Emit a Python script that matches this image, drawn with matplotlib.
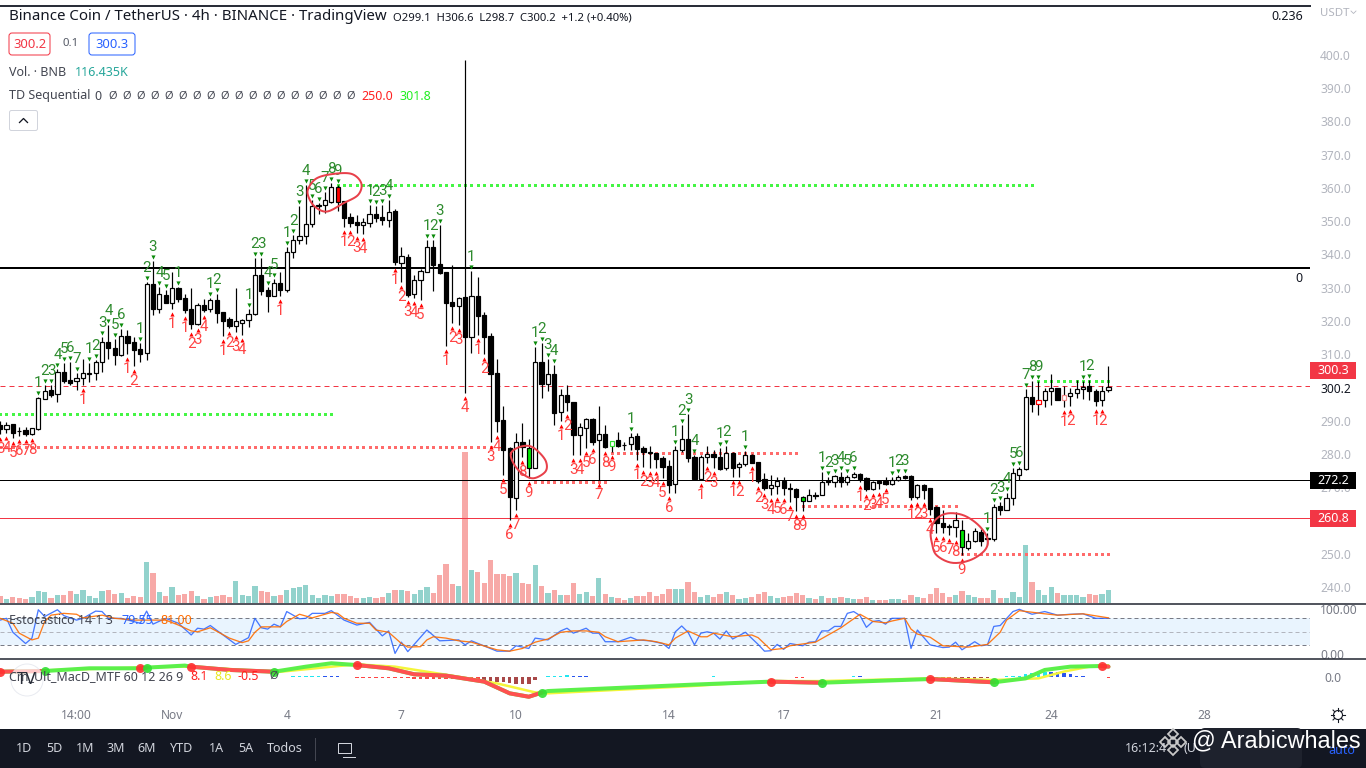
import numpy as np
import matplotlib
matplotlib.use("Agg")
from matplotlib import pyplot as plt
from matplotlib.patches import Rectangle, FancyBboxPatch, Circle
from matplotlib.transforms import offset_copy

plt.rcParams["font.family"] = ["Noto Sans", "DejaVu Sans"]

# BNB/USDT 4h candles
opens = [288.7,287.4,288.9,287.0,287.2,286.0,
    287.5,296.6,299.2,297.9,304.6,302.2,301.8,303.0,304.2,304.4,
    307.6,313.6,311.8,309.9,315.4,313.6,311.6,310.3,331.0,323.7,
    327.7,325.5,329.8,326.8,323.5,319.2,324.7,323.7,326.2,322.6,
    320.5,318.6,319.5,320.2,322.0,333.7,329.2,327.6,331.3,329.4,
    340.7,344.2,345.4,349.1,354.7,354.8,355.9,360.2,356.0,351.2,
    349.7,349.0,349.6,352.1,351.2,350.5,353.0,337.5,339.2,328.0,
    332.2,334.8,342.2,337.0,334.6,325.6,324.6,327.2,315.3,327.5,
    321.8,315.5,304.4,290.1,281.7,266.9,283.6,281.7,275.7,307.6,
    301.0,304.0,292.5,297.6,295.5,285.8,287.9,290.4,284.1,285.9,
    282.5,284.1,282.8,282.9,285.3,281.7,280.5,280.2,278.7,276.4,
    270.9,281.1,284.4,279.1,272.6,279.0,279.9,279.0,275.7,280.3,
    276.0,276.9,279.7,277.5,272.4,269.8,270.5,271.9,269.9,269.6,
    267.1,266.0,267.7,267.7,272.0,271.7,273.2,271.7,273.1,273.9,
    272.7,269.4,271.8,271.9,271.1,272.3,273.3,273.4,267.1,270.7,
    269.7,264.0,259.2,258.3,258.1,257.2,251.7,253.9,256.6,254.6,
    254.4,264.4,263.3,266.7,273.8,275.4,297.1,294.9,296.2,298.9,
    299.9,296.1,297.4,298.3,299.5,300.3,298.9,296.1,299.1]
closes = [287.5,288.7,286.4,286.9,285.9,287.7,
    296.7,299.0,297.7,304.6,302.0,301.3,303.0,304.3,304.4,307.6,
    313.6,312.0,309.9,315.4,313.5,311.3,310.2,331.0,323.7,328.0,
    325.5,329.8,326.6,323.3,319.2,324.7,323.4,326.2,322.5,320.1,
    318.5,319.9,320.2,322.0,333.7,329.1,327.6,331.3,329.3,340.6,
    344.3,345.4,349.1,354.5,354.9,356.3,360.2,355.9,351.0,349.6,
    349.0,349.7,352.1,351.1,350.5,352.7,337.8,339.4,327.8,332.2,
    334.9,342.2,336.8,334.5,325.5,324.5,326.8,315.3,327.5,321.6,
    315.3,304.2,290.0,281.2,267.2,283.5,282.0,275.7,307.6,300.9,
    304.0,292.4,297.6,295.7,285.7,288.0,290.5,283.7,285.9,282.1,
    283.8,282.5,282.6,285.2,281.6,280.6,280.2,278.6,276.2,270.8,
    281.1,284.4,278.9,272.6,279.0,279.9,279.0,275.6,280.4,275.9,
    276.9,279.6,277.4,271.9,269.8,270.6,271.9,269.8,269.6,267.1,
    266.0,267.8,267.3,271.6,271.5,273.3,271.6,273.0,273.9,272.5,
    269.4,271.5,271.4,271.0,272.3,273.0,272.9,267.0,270.7,269.2,
    263.6,259.3,258.1,258.0,260.3,251.9,253.7,256.8,253.9,254.4,
    264.2,263.2,266.7,274.2,275.4,297.1,294.9,296.2,298.9,299.8,
    296.1,297.7,298.3,299.5,300.2,298.8,295.8,298.9,300.2]
highs = [289.9,289.5,288.9,288.2,288.2,287.9,
    297.2,300.7,300.7,305.5,307.3,307.8,304.3,308.6,307.3,308.3,
    315.3,318.8,314.5,317.5,317.3,315.3,313.3,331.8,338.0,330.3,
    329.3,334.6,330.3,328.1,329.8,325.3,326.6,326.8,328.1,322.8,
    321.1,329.8,320.6,323.6,338.8,338.8,330.1,332.6,334.6,342.3,
    345.9,354.6,360.9,356.4,355.6,358.7,361.4,360.9,356.0,352.6,
    351.8,350.9,354.9,354.7,354.9,356.4,353.6,342.1,340.0,333.8,
    335.5,344.4,344.4,348.9,334.8,336.8,327.3,398.5,335.0,333.3,
    322.6,316.3,308.5,294.4,282.0,286.2,289.2,284.5,312.3,313.3,
    308.5,306.8,299.5,300.8,295.5,289.4,290.7,290.9,294.4,288.7,
    283.8,286.7,283.5,286.2,286.2,282.4,282.4,280.4,279.4,278.2,
    282.4,288.7,291.9,279.7,279.7,282.4,281.2,281.7,282.4,280.7,
    277.7,281.0,280.0,277.5,274.2,273.7,273.2,273.2,271.2,269.8,
    267.3,269.6,268.6,274.7,273.0,273.7,274.7,273.7,274.5,274.2,
    273.0,271.9,272.2,273.2,273.2,273.7,273.7,273.7,270.9,271.0,
    269.7,264.3,263.1,259.1,262.6,260.1,256.1,257.6,257.4,256.1,
    265.1,265.7,268.2,275.7,276.2,299.5,301.8,301.8,299.8,304.1,
    299.9,300.3,299.8,302.3,301.8,302.3,299.5,300.3,306.6]
lows = [285.9,286.2,284.9,285.5,285.5,285.7,
    287.2,296.4,297.2,295.7,301.2,300.7,299.2,300.7,301.7,302.2,
    304.8,308.6,306.8,309.6,310.1,306.6,307.8,308.3,321.8,322.3,
    325.3,323.5,325.8,322.5,317.5,318.8,322.8,322.8,319.5,315.6,
    317.8,316.8,315.8,318.3,321.8,327.8,322.8,327.6,327.6,328.6,
    338.8,343.2,343.2,348.4,352.1,352.4,355.6,353.2,348.2,348.2,
    346.4,346.2,348.2,349.9,348.9,348.2,336.8,331.8,327.3,326.8,
    326.3,334.6,329.1,334.1,312.6,319.3,318.8,298.2,310.3,315.8,
    310.1,283.7,286.7,273.7,260.2,263.2,279.2,272.7,275.7,296.7,
    299.0,288.7,289.9,293.0,279.7,279.7,281.7,282.7,272.2,281.7,
    280.7,282.2,281.2,281.2,278.2,276.2,275.7,275.7,272.7,268.2,
    268.2,280.7,277.5,272.4,272.2,277.2,275.7,275.2,275.2,273.2,
    273.2,276.4,277.2,271.2,269.1,267.6,267.9,267.6,265.6,262.9,
    262.9,266.0,266.6,267.6,270.7,270.2,270.2,270.7,272.7,271.7,
    268.9,269.1,269.6,270.7,270.7,272.0,272.4,266.3,266.6,266.6,
    261.6,256.1,256.1,255.6,255.1,249.6,251.1,253.6,252.3,252.6,
    253.9,261.7,263.2,264.7,272.2,275.2,292.5,291.7,294.1,294.6,
    296.1,294.1,294.3,296.8,296.5,296.3,294.3,294.5,298.7]
# volume in thousands of BNB
volumes = [60,36,54,45,36,54,
    111,99,48,72,72,108,81,117,63,48,
    108,117,81,90,48,63,51,366,270,99,
    66,144,72,81,108,63,36,54,63,72,
    57,198,72,63,153,108,99,63,72,117,
    135,144,162,72,42,72,63,78,81,63,
    45,48,57,48,57,90,117,117,108,81,
    117,144,93,252,351,171,153,1359,297,279,
    180,387,261,261,243,270,180,171,342,153,
    90,117,72,72,180,81,99,63,225,81,
    54,45,27,45,63,63,99,63,81,126,
    126,126,189,99,54,72,54,81,99,72,
    36,42,54,81,99,63,45,54,63,90,
    72,45,36,63,45,45,54,45,36,36,
    54,27,27,27,36,36,27,72,54,45,
    81,135,90,54,72,108,72,54,45,45,
    117,45,45,99,54,522,189,117,72,144,
    90,72,72,72,54,81,72,81,116.4]

# candles the indicator paints in another colour: index -> fill, edge
painted = {53: ("#ff0000", "#000000"), 83: ("#00e600", "#000000"),
           126: ("#00e600", "#000000"), 151: ("#00e600", "#000000"),
           96: ("#ffffff", "#33dd33"), 163: ("#ffffff", "#ff0000"),
           167: ("#ffffff", "#f08a8a")}

# TD Sequential counts (candle index, count)
td_up = [(6,1),(7,2),(8,3),(9,4),(10,5),(11,6),(12,7),(14,1),(15,2),(16,3),(17,4),(18,5),(19,6),
    (22,1),(23,2),(24,3),(25,4),(26,5),(28,1),(33,1),(34,2),(39,1),(40,2),(41,3),(42,4),(43,5),
    (45,1),(46,2),(47,3),(48,4),(49,5),(50,6),(51,7),(52,8),(53,9),(58,1),(59,2),(60,3),(61,4),
    (67,1),(68,2),(69,3),(74,1),(84,1),(85,2),(86,3),(87,4),(99,1),(106,1),(107,2),(108,3),(109,4),
    (113,1),(114,2),(117,1),(129,1),(130,2),(131,3),(132,4),(133,5),(134,6),(140,1),(141,2),(142,3),
    (155,1),(156,2),(157,3),(158,4),(159,5),(160,6),(161,7),(162,8),(163,9),(170,1),(171,2)]
td_down = [(0,3),(1,4),(2,5),(3,6),(4,7),(5,8),(13,1),(20,1),(21,2),(27,1),(29,1),(30,2),(31,3),(32,4),
    (35,1),(36,2),(37,3),(38,4),(44,1),(54,1),(55,2),(56,3),(57,4),(62,1),(63,2),(64,3),(65,4),(66,5),
    (70,1),(71,2),(72,3),(73,4),(75,1),(76,2),(77,3),(78,4),(79,5),(80,6),(81,7),(82,8),(83,9),
    (88,1),(89,2),(90,3),(91,4),(92,5),(93,6),(94,7),(95,8),(96,9),(100,1),(101,2),(102,3),(103,4),
    (104,5),(105,6),(110,1),(111,2),(112,3),(115,1),(116,2),(118,1),(119,2),(120,3),(121,4),(122,5),
    (123,6),(124,7),(125,8),(126,9),(135,1),(136,2),(137,3),(138,4),(139,5),(143,1),(144,2),(145,3),
    (146,4),(147,5),(148,6),(149,7),(150,8),(151,9),(167,1),(168,2),(172,1),(173,2)]

# TD support/resistance dots: price, first index, last index
green_levels = [(360.8,53,162),(292.0,0,52),(301.8,163,174)]
red_levels = [(282.1,0,77),(271.6,84,95),(280.3,96,125),(264.4,126,150),(249.8,151,174)]

# hand drawn circles on the chart (index, price)
circles = [
    [(48.4,359.9),(49.7,362.9),(52.3,364.2),(55.2,364.2),(56.7,361.4),(56.2,357.9),(53.9,355.4),(51.3,352.9),(49.4,354.4),(48.4,357.4)],
    [(80.2,280.2),(81.4,282.0),(83.1,282.4),(84.5,280.7),(85.7,277.7),(85.6,274.7),(83.7,272.7),(81.9,274.2),(80.6,277.2)],
    [(146.1,256.6),(146.8,260.1),(148.6,262.1),(151.2,261.6),(153.6,258.6),(155.0,254.6),(154.6,251.1),(152.3,248.1),(149.4,247.3),(147.0,249.6),(146.3,253.1)],
]

# stochastic
k_idx = [0,1,2,4,5,6,7,9,10,12,13,15,16,17,19,22,23,24,26,28,30,31,32,33,35,37,39,40,41,42,43,44,45,47,48,49,51,52,54,56,58,60,61,62,63,64,67,69,72,73,74,78,80,81,83,84,86,
    88,89,90,92,93,94,95,97,99,100,102,104,105,106,107,108,109,110,111,112,113,114,115,117,119,120,121,122,123,124,126,127,128,129,130,131,132,133,134,135,136,137,138,139,140,142,143,144,146,148,149,150,151,153,154,155,156,157,159,160,162,164,166,168,170,172,174]
k_vals = [76,80,49,24,36,99,84,99,86,76,80,96,95,80,80,69,96,67,80,69,43,58,56,64,43,22,37,80,59,56,67,61,95,79,80,91,91,97,76,65,71,41,52,2,27,6,54,30,32,21,30,7,7,19,13,36,32,
    52,58,47,58,47,47,28,28,38,32,30,24,13,50,63,49,21,47,50,47,34,52,34,49,22,7,8,22,11,24,19,27,28,52,52,62,62,91,95,86,60,73,75,67,80,80,13,54,21,15,16,27,10,28,19,21,62,64,95,100,89,95,87,89,90,80,80]
d_idx = [0,2,3,5,6,7,8,10,12,13,16,18,21,23,26,28,30,31,33,36,38,39,40,41,44,45,47,49,52,53,54,56,58,59,61,63,64,66,67,68,70,72,74,78,80,82,84,86,
    88,90,92,94,95,97,101,103,105,106,108,110,111,112,115,118,119,121,123,124,128,130,132,135,137,139,140,142,143,144,146,148,152,155,157,158,160,164,166,170,174]
d_vals = [80,69,47,32,36,73,87,91,89,81,87,80,76,76,76,65,52,50,59,36,26,30,49,61,61,73,89,81,93,91,80,69,69,54,49,24,16,17,32,39,36,30,27,10,7,13,27,34,
    49,52,52,49,39,28,32,28,21,36,52,39,39,47,39,43,37,10,13,19,27,43,59,89,73,70,74,80,56,45,38,19,16,22,49,76,97,90,87,90,81]

# MACD lines
macd_idx = [0,7,14,22,23,29,30,36,43,48,52,56,61,65,70,76,80,83,85,86,107,121,129,146,156,161,164,168,173,174]
macd_vals = [3.9,4.4,6.4,6.4,6.9,8.4,7.6,5.2,3.9,7.6,10.1,8.8,6.4,2.0,1.0,-3.4,-12.0,-14.5,-11.5,-10.3,-5.9,-3.4,-4.2,-1.5,-3.9,-1.0,5.2,7.6,8.1,7.6]
sig_idx = [0,21,29,36,43,52,56,62,71,78,84,86,107,121,129,146,156,163,167,171,174]
sig_vals = [3.9,6.9,7.6,5.9,3.4,7.6,9.3,7.6,1.0,-4.7,-11.3,-12.0,-7.1,-3.0,-3.0,-1.0,-2.2,-1.0,4.0,7.6,8.6]
# index ranges where MACD is under the signal line
macd_red = [(0,7),(22,23),(30,43),(56,85),(121,129),(146,156),(173,174)]
cross_down = [0,22,30,56,121,146,173]
cross_up = [7,23,43,85,129,156]
# MACD histogram by colour
hist_cyan = {46:.4,47:.4,48:.4,49:.4,50:.4,86:.6,87:.6,88:1,89:1.5,112:.4,134:.4,158:.4,159:.6,160:1,161:2,162:3,163:3.5,164:3.8}
hist_blue = {51:.4,52:.4,53:.4,90:.8,91:.4,92:.4,135:.4,165:4,166:3.5,167:3,168:2,169:1,170:.6}
hist_red = {56:-.6,57:-.6,58:-.6,59:-.6,60:-.6,61:-.7,62:-.8,63:-.9,64:-1,65:-1.1,66:-1.2,67:-1.4,68:-1.5,69:-1.6,70:-1.7,71:-1.7,72:-1.8,73:-2,74:-2.2,75:-2.4,
            125:-.6,126:-.6,146:-.6,147:-.8,148:-.9,149:-1,174:-.6}
hist_dark = {76:-2.6,77:-3,78:-3.5,79:-4,80:-4.5,81:-4.8,82:-5,83:-5,84:-2.5,150:-1.2,151:-1.4,152:-1.5,153:-1.3,154:-1,155:-.6}

day_ticks = [12,27,45,63,81,105,123,147,165,189]
day_labels = ["14:00","Nov","4","7","10","14","17","21","24","28"]
price_ticks = [240,250,260,270,280,290,299.9,310,320,330,340,350,360,370,380,390,400]
price_labels = ["240.0","250.0","260.0","270.0","280.0","290.0","300.2","310.0","320.0","330.0","340.0","350.0","360.0","370.0","380.0","390.0","400.0"]

W, H = 1366, 768
PX = 0.72
STEP = 6.37
AXIS_X = 1310
TD_FONT = ["Liberation Sans Narrow", "Roboto"]


def panel(top, bottom):
    a = fig.add_axes([0, 1 - bottom / H, AXIS_X / W, (bottom - top) / H])
    a.set_xlim(-0.1 / STEP, (AXIS_X - 0.1) / STEP)
    a.patch.set_alpha(0)
    for s in a.spines.values():
        s.set_visible(False)
    return a


def smooth_closed(points):
    # closed Catmull-Rom through the drawn points
    pts = np.array(points)
    n = len(pts)
    out = []
    for j in range(n):
        p0, p1, p2, p3 = pts[j - 1], pts[j], pts[(j + 1) % n], pts[(j + 2) % n]
        for t in np.linspace(0, 1, 12, endpoint=False):
            out.append(0.5 * (2 * p1 + (p2 - p0) * t + (2 * p0 - 5 * p1 + 4 * p2 - p3) * t ** 2
                              + (3 * p1 - p0 - 3 * p2 + p3) * t ** 3))
    out.append(out[0])
    return np.array(out)


fig = plt.figure(figsize=(W / 100, H / 100), dpi=100, facecolor="white")

# ----- volume, behind the candles -----#
vax = panel(7, 603)
vax.set_ylim(0, 596 * 9)
vax.set_yticks([])
vax.set_xticks([])
x = np.arange(len(opens))
o, h, l, c = map(np.array, (opens, highs, lows, closes))
up = c >= o
vax.bar(x, volumes, width=0.82, color=np.where(up, "#92d2cc", "#f7a9a7"), linewidth=0)

# ----- candles -----#
ax = panel(7, 603)
ax.set_zorder(2)
ax.set_ylim(235.2, 414.4)
ax.set_xticks([])
ax.axhline(300.3, color="#f23645", lw=1 * PX, dashes=(5, 4))
ax.axhline(336, color="black", lw=2 * PX)
ax.axhline(272.2, color="black", lw=1 * PX)
ax.axhline(260.8, color="#f23645", lw=1 * PX)

for price, a, b in green_levels:
    ax.plot(np.arange(a, b + 1), [price] * (b - a + 1), ls="", marker="s", ms=3 * PX, color="#44f544", mew=0)
for price, a, b in red_levels:
    ax.plot(np.arange(a, b + 1), [price] * (b - a + 1), ls="", marker="s", ms=3 * PX, color="#ff6b6b", mew=0)

ax.vlines(x, l, h, color="black", lw=1.2 * PX, zorder=3)
fills = ["#ffffff" if u else "#000000" for u in up]
edges = ["#000000"] * len(x)
for i, (fc, ec) in painted.items():
    fills[i] = fc
    edges[i] = ec
ax.bar(x, np.maximum(np.abs(c - o), 0.15), bottom=np.minimum(o, c), width=0.66, color=fills,
       edgecolor=edges, linewidth=1.2 * PX, zorder=4)

tri_up = offset_copy(ax.transData, fig=fig, y=4 * PX, units="points")
tri_dn = offset_copy(ax.transData, fig=fig, y=-5 * PX, units="points")
num_up = offset_copy(ax.transData, fig=fig, y=14 * PX, units="points")
num_dn = offset_copy(ax.transData, fig=fig, y=-15 * PX, units="points")
for i, n in td_up:
    ax.plot(i, h[i], marker="v", ms=3.0, color="#0a8a0a", mew=0, transform=tri_up, zorder=5)
    ax.text(i, h[i], str(n), color="#2e8b2e", fontsize=15 * PX, family=TD_FONT, ha="center", va="center", transform=num_up, zorder=5)
for i, n in td_down:
    ax.plot(i, l[i], marker="^", ms=3.0, color="#ff0000", mew=0, transform=tri_dn, zorder=5)
    ax.text(i, l[i], str(n), color="#f44", fontsize=15 * PX, family=TD_FONT, ha="center", va="center", transform=num_dn, zorder=5)

for pts in circles:
    s = smooth_closed(pts)
    ax.plot(s[:, 0], s[:, 1], color="#e8404a", lw=2 * PX, zorder=6)

ax.yaxis.tick_right()
ax.set_yticks(price_ticks)
ax.set_yticklabels(price_labels, fontsize=12 * PX, color="#b2b5be")
ax.tick_params(axis="y", length=0, pad=10 * PX)
ax.get_yticklabels()[6].set_color("#131722")

# ----- stochastic -----#
sax = panel(604, 659)
sax.set_ylim(-10.4, 111.8)
sax.set_xticks([])
sax.axhspan(20, 80, color="#e9f4fe", lw=0)
sax.axhline(80, color="#787b86", lw=1 * PX, dashes=(4, 3))
sax.axhline(20, color="#787b86", lw=1 * PX, dashes=(4, 3))
sax.axhline(50, color="#b2b5be", lw=1 * PX, dashes=(4, 3))
sax.plot(k_idx, k_vals, color="#2962ff", lw=1.3 * PX, alpha=0.85)
sax.plot(d_idx, d_vals, color="#ff6d00", lw=1.3 * PX, alpha=0.9)
sax.yaxis.tick_right()
sax.set_yticks([0, 100])
sax.set_yticklabels(["0.00", "100.00"], fontsize=12 * PX, color="#787b86")
sax.tick_params(axis="y", length=0, pad=10 * PX)

# ----- MACD -----#
max_ = panel(660, 703)
max_.set_ylim(-19.1, 12.5)
ii = np.arange(175)
mline = np.interp(ii, macd_idx, macd_vals)
sline = np.interp(ii, sig_idx, sig_vals)
for col, group in ((hist_cyan, "#22e6f0"), (hist_blue, "#2a55ee"), (hist_red, "#f44"), (hist_dark, "#a84848")):
    max_.bar(list(col.keys()), list(col.values()), width=0.55, color=group, linewidth=0)
max_.plot(ii, sline, color="#f5f53a", lw=2.5 * PX, solid_capstyle="round")
max_.plot(ii, mline, color="#5cf04a", lw=4 * PX, solid_capstyle="round")
for a, b in macd_red:
    max_.plot(ii[a:b + 1], mline[a:b + 1], color="#ff5050", lw=4 * PX, solid_capstyle="round")
max_.plot(cross_down, mline[cross_down], ls="", marker="o", ms=9 * PX, color="#ff3030", mew=0, alpha=0.9)
max_.plot(cross_up, mline[cross_up], ls="", marker="o", ms=9 * PX, color="#33e033", mew=0, alpha=0.9)
max_.yaxis.tick_right()
max_.set_yticks([0])
max_.set_yticklabels(["0.0"], fontsize=12 * PX, color="#787b86")
max_.tick_params(axis="y", length=0, pad=14 * PX)
max_.set_xticks(day_ticks)
max_.set_xticklabels(day_labels, fontsize=12 * PX, color="#787b86")
max_.tick_params(axis="x", length=0, pad=6 * PX)

# ----- everything that is not data, in screen pixels -----#
ov = fig.add_axes([0, 0, 1, 1], zorder=10)
ov.set_xlim(0, W)
ov.set_ylim(H, 0)
ov.axis("off")


def label(xp, yp, s, size=12.5, color="#131722", **kw):
    kw.setdefault("va", "center")
    ov.text(xp, yp, s, fontsize=size * PX, color=color, **kw)


def value_box(yp, s, fc):
    ov.add_patch(Rectangle((AXIS_X, yp - 8.5), 46, 17, fc=fc, ec="none"))
    label(1333, yp, s, 12.5, "white", ha="center", weight="bold")


ov.plot([0, AXIS_X], [6, 6], color="#2a2e39", lw=2 * PX)
ov.plot([0, W], [604, 604], color="#2a2e39", lw=1.6 * PX)
ov.plot([0, W], [659, 659], color="#2a2e39", lw=1.6 * PX)

label(9, 17, "Binance Coin / TetherUS · 4h · BINANCE · TradingView", 15)
label(393, 18, "O299.1  H306.6  L298.7  C300.2  +1.2 (+0.40%)", 11.3)
ov.add_patch(FancyBboxPatch((9, 33), 41, 22, boxstyle="round,pad=0,rounding_size=3", fc="white", ec="#f23645", lw=1 * PX))
label(29.5, 44.5, "300.2", 13, "#f23645", ha="center")
label(71, 44, "0.1", 11.5, "#555a66", ha="center")
ov.add_patch(FancyBboxPatch((89, 33), 46, 22, boxstyle="round,pad=0,rounding_size=3", fc="white", ec="#2962ff", lw=1 * PX))
label(112, 44.5, "300.3", 13, "#2962ff", ha="center")

label(9, 73, "Vol. · BNB", 12.5, "#434651")
label(75, 73, "116.435K", 12.5, "#26a69a")
label(9, 96, "TD Sequential", 12.5, "#434651")
label(94, 96, "0", 12.5, "#434651")
for j in range(18):
    label(113 + j * 14, 96, "Ø", 11, "#434651", ha="center")
label(361, 96, "250.0", 12.5, "#ff2020")
label(399, 96, "301.8", 12.5, "#22ee22")
ov.add_patch(FancyBboxPatch((9.5, 110.5), 28, 20, boxstyle="round,pad=0,rounding_size=2", fc="white", ec="#d1d4dc", lw=1 * PX))
ov.plot([19.5, 23.5, 27.5], [122.5, 118.5, 122.5], color="#131722", lw=1.3 * PX)

label(1287, 16, "0.236", 12.5, ha="center")
label(1299, 278, "0", 12.5, ha="center")
label(1320, 13, "USDT", 11.5, "#b2b5be")
ov.plot([1351, 1353.5, 1356], [11, 13.5, 11], color="#b2b5be", lw=0.8 * PX)
value_box(370, "300.3", "#f23645")
value_box(480.5, "272.2", "#000000")
value_box(518.5, "260.8", "#f23645")

label(9, 621, "Estocástico 14 1 3", 12.5, "#434651")
label(122, 621, "79.55", 12.5, "#2962ff")
label(160, 621, "81.00", 12.5, "#ff6d00")
label(9, 677, "Cm_Ult_MacD_MTF 60 12 26 9", 12.5, "#434651")
label(190, 676, "8.1", 12.5, "#ff2020")
label(214, 676, "8.6", 12.5, "#e8e820")
label(238, 676, "-0.5", 12.5, "#ff2020")
label(274, 676, "Ø", 11, "#434651", ha="center")
ov.add_patch(Circle((27, 680), 16, fc="white", ec="#e0e3eb", lw=1 * PX, alpha=0.7))
label(27, 680, "TV", 17, "#2a2e39", ha="center", weight="bold")

# settings gear
ov.add_patch(Circle((1338, 715), 4.5, fc="none", ec="#131722", lw=1.1 * PX))
for ang in np.arange(0, 2 * np.pi, np.pi / 4):
    ov.plot([1338 + 4.5 * np.cos(ang), 1338 + 7 * np.cos(ang)], [715 + 4.5 * np.sin(ang), 715 + 7 * np.sin(ang)], color="#131722", lw=1.1 * PX)

# bottom toolbar
ov.add_patch(Rectangle((0, 729), W, 39, fc="#131722", ec="none"))
for xp, s in zip([24, 54, 85, 116, 147, 182, 216, 246, 285], ["1D", "5D", "1M", "3M", "6M", "YTD", "1A", "5A", "Todos"]):
    label(xp, 749, s, 12.5, "#d1d4dc", ha="center")
ov.plot([315, 315], [738, 760], color="#434651", lw=1 * PX)
ov.add_patch(Rectangle((338, 743), 13, 10, fc="none", ec="#d1d4dc", lw=1 * PX))
ov.plot([343, 355], [757, 757], color="#d1d4dc", lw=1 * PX)
label(1125, 749, "16:12:4", 12.5, "#d1d4dc")
label(1184, 749, "(U", 12.5, "#d1d4dc")
label(1328, 750, "auto", 12.5, "#2962ff")
ov.add_patch(FancyBboxPatch((1200, 728), 102, 40, boxstyle="round,pad=0,rounding_size=5", fc="#1e222d", ec="none"))
for dx, dy in [(0, -8), (-8, 0), (8, 0), (0, 8), (0, 0)]:
    ov.plot(1173 + dx, 742 + dy, marker="D", ms=6.5 * PX, mfc="none", mec="#c8c8c8", mew=1.8 * PX)
ov.text(1192, 741, "@ Arabicwhales", family="Liberation Sans", fontsize=23.4 * PX, color="white", va="center")

fig.savefig("out.png", dpi=100)
